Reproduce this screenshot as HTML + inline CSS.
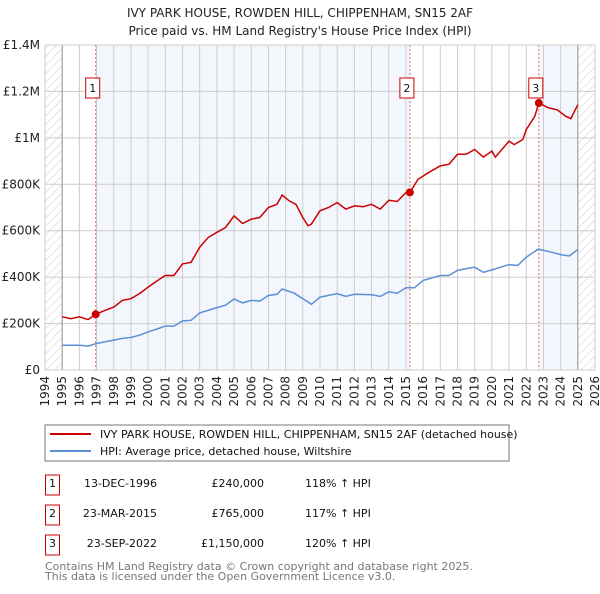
<!DOCTYPE html>
<html><head><meta charset="utf-8"><style>
body{margin:0;background:#fff;font-family:"DejaVu Sans","Liberation Sans",sans-serif;}
svg text{font-family:"DejaVu Sans","Liberation Sans",sans-serif;}
</style></head><body>
<svg id="chart" width="600" height="590" xmlns="http://www.w3.org/2000/svg">
<defs><pattern id="hatch" width="6" height="6" patternUnits="userSpaceOnUse" patternTransform="rotate(45)"><line x1="0" y1="0" x2="0" y2="6" stroke="#ccc" stroke-width="1"/></pattern></defs>
<text x="300" y="17" text-anchor="middle" font-size="12" fill="#222">IVY PARK HOUSE, ROWDEN HILL, CHIPPENHAM, SN15 2AF</text>
<text x="300" y="35" text-anchor="middle" font-size="12" fill="#222">Price paid vs. HM Land Registry's House Price Index (HPI)</text>
<g id="plot"></g>
<rect x="45" y="425" width="464" height="36" fill="#fff" stroke="#777"/>
<line x1="50" y1="434" x2="91" y2="434" stroke="#cc0000" stroke-width="2"/>
<text x="100" y="438" font-size="11" fill="#111">IVY PARK HOUSE, ROWDEN HILL, CHIPPENHAM, SN15 2AF (detached house)</text>
<line x1="50" y1="451" x2="91" y2="451" stroke="#5b8fd6" stroke-width="2"/>
<text x="100" y="455" font-size="11" fill="#111">HPI: Average price, detached house, Wiltshire</text>
<g font-size="11" fill="#111">
<rect x="45.5" y="475" width="14" height="20" fill="none" stroke="#cc0000"/><text x="52.5" y="487" text-anchor="middle">1</text>
<text x="157" y="487" text-anchor="end">13-DEC-1996</text><text x="264" y="487" text-anchor="end">£240,000</text><text x="305" y="487">118% ↑ HPI</text>
<rect x="45.5" y="505" width="14" height="20" fill="none" stroke="#cc0000"/><text x="52.5" y="517" text-anchor="middle">2</text>
<text x="157" y="517" text-anchor="end">23-MAR-2015</text><text x="264" y="517" text-anchor="end">£765,000</text><text x="305" y="517">117% ↑ HPI</text>
<rect x="45.5" y="535" width="14" height="20" fill="none" stroke="#cc0000"/><text x="52.5" y="547" text-anchor="middle">3</text>
<text x="157" y="547" text-anchor="end">23-SEP-2022</text><text x="264" y="547" text-anchor="end">£1,150,000</text><text x="305" y="547">120% ↑ HPI</text>
</g>
<text x="45" y="570" font-size="11" fill="#777">Contains HM Land Registry data © Crown copyright and database right 2025.</text>
<text x="45" y="580" font-size="11" fill="#777">This data is licensed under the Open Government Licence v3.0.</text>
</svg>
<script>
const yearTicks=[1994,1995,1996,1997,1998,1999,2000,2001,2002,2003,2004,2005,2006,2007,2008,2009,2010,2011,2012,2013,2014,2015,2016,2017,2018,2019,2020,2021,2022,2023,2024,2025,2026];
const valueTicks=[0,200000,400000,600000,800000,1000000,1200000,1400000];
const valueLabels=["£0","£200K","£400K","£600K","£800K","£1M","£1.2M","£1.4M"];
const propT=[1995,1995.5,1996,1996.5,1996.95,1997.5,1998,1998.5,1999,1999.5,2000,2000.5,2001,2001.5,2002,2002.5,2003,2003.5,2004,2004.5,2005,2005.5,2006,2006.5,2007,2007.5,2007.8,2008.2,2008.6,2009,2009.3,2009.5,2010,2010.5,2011,2011.5,2012,2012.5,2013,2013.5,2014,2014.5,2015,2015.23,2015.7,2016.3,2017,2017.5,2018,2018.5,2019,2019.5,2020,2020.2,2021,2021.3,2021.8,2022,2022.5,2022.73,2023.3,2023.8,2024.3,2024.6,2025];
const propV=[229,221,229,217,240,257,271,300,307,329,357,383,407,407,457,464,529,571,593,614,664,631,650,657,700,714,754,729,714,657,621,629,686,700,721,693,707,703,714,693,731,726,764,765,821,850,879,886,929,929,950,917,943,917,986,971,993,1036,1093,1150,1129,1121,1093,1083,1143];
const hpiT=[1995,1996,1996.5,1997,1998,1998.5,1999,1999.5,2000,2000.5,2001,2001.5,2002,2002.5,2003,2004,2004.5,2005,2005.5,2006,2006.5,2007,2007.5,2007.8,2008.5,2009.3,2009.5,2010,2011,2011.5,2012,2013,2013.5,2014,2014.5,2015,2015.5,2016,2017,2017.5,2018,2019,2019.5,2020,2021,2021.5,2022,2022.7,2023.5,2024,2024.5,2025];
const hpiV=[107,107,103,114,129,136,140,150,164,176,189,189,211,214,246,269,279,306,289,300,297,321,326,349,331,293,283,314,329,317,326,324,317,337,331,354,354,386,407,407,429,443,421,431,454,450,486,521,507,497,491,519];
const saleT=[1996.95,2015.23,2022.73];
const saleV=[240,765,1150];
const saleLabels=["1","2","3"];

const L=45,R=595,T=45,B=370;
const X=t=>L+(t-1994)/(2026-1994)*(R-L);
const Y=v=>B-v/1400000*(B-T);
const NS="http://www.w3.org/2000/svg";
const g=document.getElementById('plot');
function mk(tag,attrs,parent){const e=document.createElementNS(NS,tag);for(const k in attrs)e.setAttribute(k,attrs[k]);(parent||g).appendChild(e);return e;}
let e;
e=mk('rect',{x:L,y:T,width:X(1995)-L,height:B-T,fill:'url(#hatch)'});


e=mk('rect',{x:X(2025),y:T,width:R-X(2025),height:B-T,fill:'url(#hatch)'});


e=mk('rect',{x:X(saleT[0]),y:T,width:X(saleT[1])-X(saleT[0]),height:B-T,fill:'#eef3fc',opacity:0.7});


e=mk('rect',{x:X(saleT[2]),y:T,width:X(2025)-X(saleT[2]),height:B-T,fill:'#eef3fc',opacity:0.7});


yearTicks.forEach(y=>{
 e=mk('line',{x1:X(y),x2:X(y),y1:T,y2:B,stroke:'#ccc','stroke-width':1});
 
 
 e=mk('text',{x:0,y:0,transform:`translate(${X(y)+4},${B+6}) rotate(-90)`,'text-anchor':'end','font-size':12,fill:'#222'});
 e.textContent=y;
 
 
});
valueTicks.forEach((v,i)=>{
 e=mk('line',{x1:L,x2:R,y1:Y(v),y2:Y(v),stroke:'#ccc','stroke-width':1});
 
 
 e=mk('text',{x:L-5,y:Y(v)+4,'text-anchor':'end','font-size':12,fill:'#222'});
 e.textContent=valueLabels[i];
 
 
});
e=mk('line',{x1:X(1995),x2:X(1995),y1:T,y2:B,stroke:'#999'});


e=mk('line',{x1:X(2025),x2:X(2025),y1:T,y2:B,stroke:'#999'});


saleT.forEach((t,i)=>{
 e=mk('line',{x1:X(t),x2:X(t),y1:T,y2:B,stroke:'#e66','stroke-dasharray':'2,2'});
 
 
});
const pts=(ts,vs)=>ts.map((t,i)=>X(t).toFixed(1)+','+Y(vs[i]*1000).toFixed(1)).join(' ');
e=mk('polyline',{points:pts(hpiT,hpiV),fill:'none',stroke:'#5b8fd6','stroke-width':1.5});


e=mk('polyline',{points:pts(propT,propV),fill:'none',stroke:'#cc0000','stroke-width':1.5});


saleT.forEach((t,i)=>{
 e=mk('circle',{cx:X(t),cy:Y(saleV[i]*1000),r:4,fill:'#cc0000'});
 
 
 e=mk('rect',{x:X(t)-10,y:78,width:14,height:20,fill:'#fff',stroke:'#cc0000'});
 
 
 e=mk('text',{x:X(t)-3,y:92,'text-anchor':'middle','font-size':11,fill:'#111'});
 e.textContent=saleLabels[i];
 
 
});
e=mk('rect',{x:L,y:T,width:R-L,height:B-T,fill:'none',stroke:'#ccc'});


</script>
</body></html>
